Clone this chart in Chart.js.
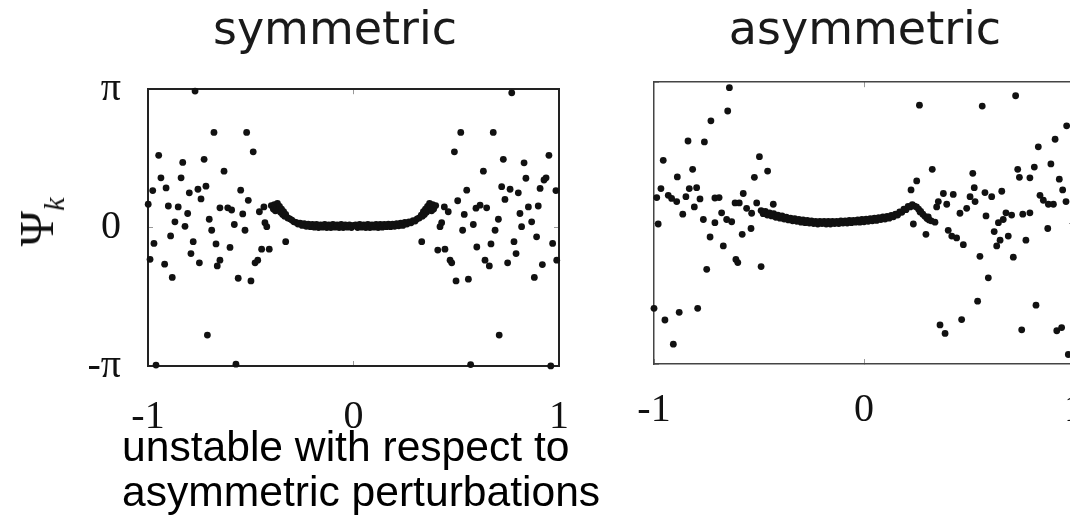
<!DOCTYPE html>
<html>
<head>
<meta charset="utf-8">
<script src="https://cdn.jsdelivr.net/npm/chart.js@4.4.1/dist/chart.umd.min.js"></script>
<style>
html,body{margin:0;padding:0;width:1070px;height:518px;overflow:hidden;background:#fff;position:relative}
#c1{position:absolute;left:0;top:0}
#c2{position:absolute;left:600px;top:0}
.note{position:absolute;left:122px;top:424px;font:42.6px/45px "Liberation Sans",Arial,sans-serif;color:#000;white-space:nowrap}
.ylab{position:absolute;left:37px;top:222px;transform:translate(-50%,-50%) rotate(-90deg);font:48px/1 "Liberation Serif",serif;white-space:nowrap;color:#111}
.ylab i{font-size:30px;position:relative;top:11px}
</style>
</head>
<body>
<canvas id="c1" width="670" height="440"></canvas>
<canvas id="c2" width="530" height="440"></canvas>
<div class="ylab">Ψ<i>k</i></div>
<div class="note">unstable with respect to<br>asymmetric perturbations</div>
<script>
// ---- tick values / labels ----
const xTickValues = [-1, 0, 1];
const xTickLabels = ['-1', '0', '1'];
const yTickValues = [-Math.PI, 0, Math.PI];
const yTickLabels = ['-π', '0', 'π'];
const panelTitles = ['symmetric', 'asymmetric'];

// ---- symmetric panel: scattered points ----
const symScatterX = [-0.771,-0.679,-0.520,-0.488,-0.948,-0.831,-0.727,-0.630,-0.937,-0.839,-0.912,-0.977,-0.799,-0.757,-0.718,-0.742,-0.549,-0.512,-0.999,-0.901,-0.853,-0.807,-0.650,-0.612,-0.593,-0.539,-0.458,-0.436,-0.869,-0.820,-0.702,-0.690,-0.580,-0.528,-0.431,-0.422,-0.971,-0.890,-0.780,-0.669,-0.601,-0.447,-0.410,-0.330,-0.990,-0.919,-0.791,-0.750,-0.650,-0.663,-0.479,-0.466,-0.882,-0.561,-0.499,-0.711,-0.961,-0.572,
 0.770,0.522,0.680,0.491,0.951,0.729,0.830,0.632,0.839,0.937,0.927,0.721,0.762,0.802,0.908,0.985,0.551,0.507,0.737,0.442,0.461,0.539,0.596,0.616,0.648,0.851,0.899,0.810,0.705,0.867,0.421,0.429,0.583,0.531,0.689,0.818,0.332,0.410,0.445,0.600,0.669,0.781,0.891,0.969,0.791,0.470,0.478,0.640,0.661,0.750,0.919,0.989,0.499,0.559,0.880,0.709,0.570,0.960];
const symScatterY = [3.10,2.16,2.16,1.72,1.64,1.48,1.55,1.28,1.13,1.13,0.90,0.84,0.79,0.87,0.94,0.65,0.85,0.62,0.53,0.49,0.47,0.32,0.45,0.45,0.40,0.31,0.36,0.47,0.13,0.03,0.19,-0.06,0.07,-0.06,0.11,0.02,-0.36,-0.19,-0.32,-0.37,-0.45,-0.49,-0.49,-0.32,-0.72,-0.83,-0.59,-0.80,-0.74,-0.87,-0.80,-0.74,-1.13,-1.15,-1.21,-2.44,-3.12,-3.10,
 3.06,2.16,2.16,1.72,1.64,1.55,1.47,1.28,1.12,1.13,1.08,0.93,0.87,0.79,0.89,0.84,0.85,0.61,0.64,0.47,0.36,0.30,0.44,0.51,0.45,0.47,0.49,0.32,0.19,0.13,0.02,0.11,0.07,-0.06,-0.06,0.02,-0.32,-0.51,-0.49,-0.44,-0.37,-0.32,-0.21,-0.36,-0.59,-0.74,-0.80,-0.74,-0.87,-0.80,-0.84,-0.74,-1.21,-1.17,-1.13,-2.44,-3.11,-3.14];

// ---- symmetric panel: dense central branch ----
const symCurveX = [-0.40,-0.39,-0.385,-0.38,-0.375,-0.37,-0.365,-0.36,-0.355,-0.35,-0.345,-0.34,-0.335,-0.33,-0.32,-0.31,-0.30,-0.29,-0.28,-0.27,-0.26,-0.25,-0.24,-0.23,-0.22,-0.21,-0.20,-0.19,-0.18,-0.17,-0.16,-0.15,-0.14,-0.13,-0.12,-0.11,-0.10,-0.09,-0.08,-0.07,-0.06,-0.05,-0.04,-0.03,-0.02,-0.01,0,
 0.01,0.02,0.03,0.04,0.05,0.06,0.07,0.08,0.09,0.10,0.11,0.12,0.13,0.14,0.15,0.16,0.17,0.18,0.19,0.20,0.21,0.22,0.23,0.24,0.25,0.26,0.27,0.28,0.29,0.30,0.31,0.32,0.33,0.335,0.34,0.345,0.35,0.355,0.36,0.365,0.37,0.375,0.38,0.385,0.39,0.40];
const symCurveY = [0.50,0.42,0.52,0.38,0.47,0.55,0.40,0.48,0.35,0.42,0.30,0.36,0.26,0.30,0.22,0.20,0.17,0.13,0.12,0.08,0.10,0.05,0.09,0.03,0.08,0.02,0.07,0.01,0.07,0.00,0.06,0.01,0.07,0.00,0.06,0.00,0.07,0.01,0.06,0.00,0.07,0.00,0.06,0.01,0.06,0.00,0.05,
 0.06,0.00,0.07,0.01,0.06,0.00,0.07,0.00,0.06,0.01,0.07,0.00,0.07,0.01,0.07,0.02,0.08,0.02,0.08,0.03,0.09,0.04,0.10,0.05,0.12,0.08,0.13,0.11,0.16,0.15,0.20,0.22,0.28,0.26,0.36,0.30,0.42,0.35,0.48,0.40,0.55,0.47,0.38,0.52,0.42,0.50];

// ---- asymmetric panel: scattered points ----
const asymScatterX = [-0.641,-0.649,-0.729,-0.838,-0.760,-0.956,-0.498,-0.459,-0.522,-0.816,-0.889,-0.967,-0.987,-0.932,-0.916,-0.892,-0.848,-0.832,-0.797,-0.781,-0.808,-0.863,-0.980,-0.765,-0.710,-0.690,-0.678,-0.710,-0.733,-0.670,-0.654,-0.630,-0.614,-0.575,-0.594,-0.559,-0.535,-0.511,-0.580,-0.538,-0.749,-0.610,-0.601,-0.490,-0.432,-1.0,-0.948,-0.908,-0.880,-0.792,
 0.264,0.563,0.722,0.965,0.910,0.830,0.890,0.811,0.732,0.740,0.790,0.930,0.946,0.518,0.325,0.251,0.224,0.525,0.576,0.608,0.656,0.378,0.425,0.505,0.529,0.354,0.394,0.346,0.489,0.457,0.267,0.306,0.338,0.235,0.295,0.401,0.418,0.441,0.473,0.581,0.620,0.640,0.663,0.676,0.703,0.648,0.632,0.687,0.552,0.592,0.711,0.541,0.465,0.362,0.386,0.751,0.819,0.918,0.941,0.973,0.771,0.875,0.756,0.790,0.838,0.854,0.878,0.902,0.962];
const asymScatterY = [3.02,2.50,2.28,1.83,1.81,1.40,1.48,1.16,1.02,1.20,1.03,0.77,0.57,0.62,0.55,0.48,0.59,0.77,0.79,0.54,0.36,0.20,-0.02,0.08,0.56,0.57,0.23,0.01,-0.31,-0.51,0.08,0.03,0.45,0.66,0.45,0.33,0.22,0.45,-0.25,-0.12,-1.03,-0.81,-0.88,-0.97,0.42,-1.90,-2.16,-2.70,-1.99,-1.90,
 2.63,2.61,2.84,2.17,1.87,1.70,1.32,1.25,1.20,1.02,1.01,0.98,0.74,1.11,1.20,0.94,0.74,0.79,0.68,0.59,0.71,0.66,0.64,0.59,0.48,0.48,0.42,0.36,0.33,0.22,0.25,0.14,0.02,-0.02,-0.25,-0.16,-0.29,-0.33,-0.48,0.16,-0.19,0.01,0.08,0.23,0.18,-0.38,-0.51,-0.29,-0.74,-1.22,-0.76,-1.74,-2.15,-2.27,-2.46,-2.38,-1.83,-2.40,-2.33,-2.93,-0.38,-0.12,0.20,0.23,0.62,0.51,0.42,0.42,0.48];

// ---- asymmetric panel: dense central branch ----
const asymCurveX = [-0.49,-0.48,-0.47,-0.46,-0.45,-0.44,-0.43,-0.42,-0.41,-0.40,-0.39,-0.38,-0.37,-0.36,-0.35,-0.34,-0.33,-0.32,-0.31,-0.30,-0.29,-0.28,-0.27,-0.26,-0.25,-0.24,-0.23,-0.22,-0.21,-0.20,-0.19,-0.18,-0.17,-0.16,-0.15,-0.14,-0.13,-0.12,-0.11,-0.10,-0.09,-0.08,-0.07,-0.06,-0.05,-0.04,-0.03,-0.02,-0.01,0,
 0.01,0.02,0.03,0.04,0.05,0.06,0.07,0.08,0.09,0.10,0.11,0.12,0.13,0.14,0.15,0.16,0.17,0.18,0.19,0.20,0.21,0.22,0.23,0.24,0.25,0.26,0.27,0.28,0.29,0.30,0.31,0.32];
const asymCurveY = [0.28,0.21,0.26,0.18,0.23,0.16,0.21,0.13,0.18,0.11,0.16,0.09,0.13,0.07,0.11,0.05,0.10,0.04,0.08,0.02,0.07,0.01,0.06,0.00,0.05,-0.01,0.04,-0.02,0.04,-0.01,0.04,-0.02,0.04,-0.02,0.04,-0.01,0.04,-0.01,0.05,0.00,0.05,0.00,0.06,0.01,0.06,0.02,0.07,0.02,0.08,0.03,
 0.09,0.04,0.10,0.05,0.11,0.06,0.12,0.08,0.14,0.09,0.15,0.11,0.17,0.14,0.20,0.18,0.25,0.24,0.31,0.30,0.37,0.36,0.41,0.38,0.36,0.31,0.26,0.20,0.15,0.10,0.07,0.05];

function pts(xs, ys) { return xs.map((x, i) => ({ x: x, y: ys[i] })); }

function dotSet(data) {
  return { data: data, backgroundColor: '#111', borderWidth: 0, pointRadius: 3.4, pointHoverRadius: 3.4, clip: false };
}

function makePanel(canvasId, cfg) {
  const tickFont = { family: 'Liberation Serif', size: 40 };
  const frame = (pos, vals, size) => ({
    type: 'linear', position: pos,
    min: pos === 'top' || pos === 'bottom' ? -1 : -Math.PI,
    max: pos === 'top' || pos === 'bottom' ? 1 : Math.PI,
    afterBuildTicks: s => { s.ticks = vals.map(v => ({ value: v })); },
    grid: { drawOnChartArea: false, drawTicks: true, tickLength: -5, color: '#999', lineWidth: 1 },
    border: { display: true, color: cfg.frameColor, width: cfg.frameWidth },
    afterFit: s => { if (pos === 'top' || pos === 'bottom') s.height = size; else s.width = size; }
  });
  const x = frame('bottom', xTickValues, cfg.bottomH);
  x.ticks = { display: true, font: tickFont, color: '#111', padding: cfg.xPad, maxRotation: 0, autoSkip: false,
              callback: (v, i) => xTickLabels[i] };
  const y = frame('left', yTickValues, cfg.leftW);
  y.ticks = { display: cfg.showY, font: tickFont, color: '#111', padding: 32, autoSkip: false,
              callback: (v, i) => yTickLabels[i] };
  const x2 = frame('top', [0], 0);
  x2.ticks = { display: false };
  const y2 = frame('right', [0], cfg.rightW);
  y2.ticks = { display: false };

  return new Chart(document.getElementById(canvasId), {
    type: 'scatter',
    data: { datasets: [dotSet(pts(cfg.sx, cfg.sy)), dotSet(pts(cfg.cx, cfg.cy))] },
    options: {
      responsive: false, animation: false, events: [],
      layout: { padding: 0 },
      plugins: {
        legend: { display: false }, tooltip: { enabled: false },
        title: { display: true, text: cfg.title, color: '#1a1a1a',
                 font: { family: 'DejaVu Sans', size: 46, weight: 'normal' },
                 padding: { top: 4, bottom: cfg.titleBottom } }
      },
      scales: { x: x, y: y, x2: x2, y2: y2 }
    }
  });
}

makePanel('c1', { title: panelTitles[0], titleBottom: 30, leftW: 148, rightW: 111, bottomH: 74, xPad: 32,
  showY: true, frameColor: '#222', frameWidth: 2,
  sx: symScatterX, sy: symScatterY, cx: symCurveX, cy: symCurveY });
makePanel('c2', { title: panelTitles[1], titleBottom: 23, leftW: 54, rightW: 56, bottomH: 76, xPad: 27,
  showY: false, frameColor: '#444', frameWidth: 1.5,
  sx: asymScatterX, sy: asymScatterY, cx: asymCurveX, cy: asymCurveY });
</script>
</body>
</html>
